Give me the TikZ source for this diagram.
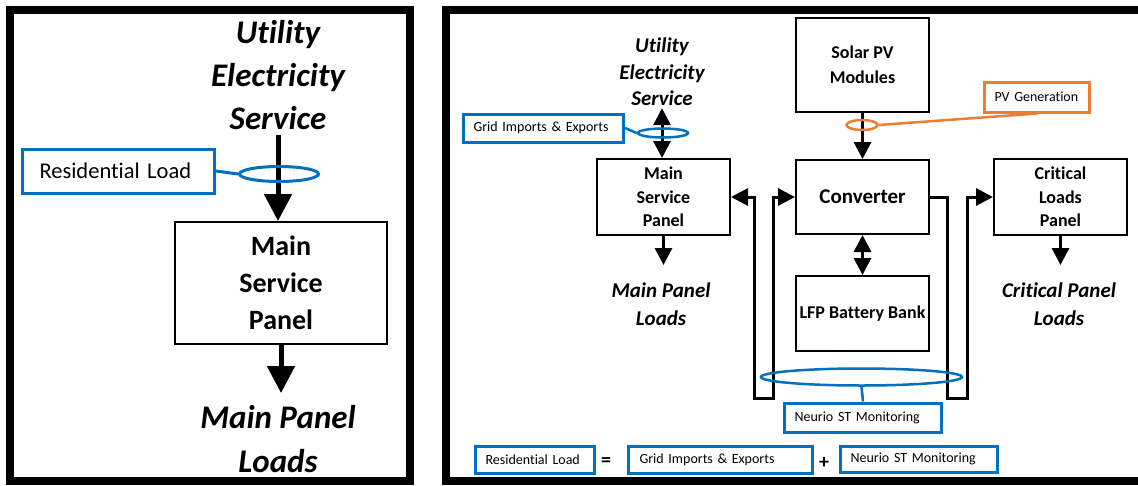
\documentclass[tikz,border=0pt]{standalone}
\usepackage{fontspec}
\setmainfont{Carlito}[Ligatures=NoCommon]
\usetikzlibrary{arrows.meta,calc,shapes.geometric}
\definecolor{callblue}{HTML}{0070C0}
\definecolor{callorange}{HTML}{ED7D31}
\newcommand\fsz[2]{\fontsize{#1}{#2}\selectfont}

\tikzset{
  bigtip/.tip={Triangle[width=27pt,length=27pt]},
  smalltip/.tip={Triangle[width=17pt,length=17pt]},
  panelframe/.style={draw=black,line width=8pt},
  blk/.style={draw=black,line width=2pt,inner sep=0pt,align=center},
  flowtext/.style={inner sep=0pt,align=center},
  callout/.style={draw=#1,line width=3pt,inner ysep=0pt,inner xsep=10pt,
    align=left,anchor=west,font=\fsz{14}{17}},
  callout/.default=callblue,
  loopring/.style={draw=#1,ellipse,line width=2.5pt,inner sep=0pt},
  loopring/.default=callblue,
  leader/.style={draw=#1,line width=2.5pt},
  leader/.default=callblue,
  wire/.style={line width=3pt},
  heavywire/.style={line width=5pt},
}

\begin{document}
\begin{tikzpicture}[x=1pt,y=-1pt]
\clip (0,0) rectangle (1138,485);
\useasboundingbox (0,0) rectangle (1138,485);
\fill[white] (0,0) rectangle (1138,485);

% ---------- left panel: utility service only ----------
\draw[panelframe] (10,10) rectangle (410,481);

\node[flowtext,font=\bfseries\itshape\fsz{33}{43}] (utilL) at (278,75)
  {Utility\\Electricity\\Service};
\node[blk,font=\bfseries\fsz{28}{37},minimum width=212pt,minimum height=122pt]
  (mspL) at (281,283) {Main\\Service\\Panel};
\node[flowtext,font=\bfseries\itshape\fsz{33}{44}] (loadsL) at (278,439.5)
  {Main Panel\\Loads};
\coordinate (tipL) at (281,393);

\draw[heavywire,-bigtip] ($(utilL.south)+(0,5)$) -- (utilL.south |- mspL.north);
\draw[heavywire,-bigtip] (mspL.south) -- (tipL);

\node[loopring,line width=3pt,minimum width=79pt,minimum height=15pt] (ringL) at (279,174) {};
\node[callout,font=\fsz{22.5}{27},minimum height=44pt,text width=158pt,inner xsep=17pt]
  (resL) at (21,171) {Residential Load};
\draw[leader,line width=3pt] (resL.east) -- (ringL.west);

% ---------- right panel: with solar and storage ----------
\draw[panelframe] (446,10) rectangle (1170,481);

\node[flowtext,font=\bfseries\itshape\fsz{21}{26.5}] (utilR) at (662,72)
  {Utility\\Electricity\\Service};
\node[blk,font=\bfseries\fsz{18}{23.5},minimum width=133pt,minimum height=76pt]
  (mspR) at (663.5,197) {Main\\Service\\Panel};
\node[flowtext,font=\bfseries\itshape\fsz{21}{28}] (loadsR) at (661,304)
  {Main Panel\\Loads};
\coordinate (tipR) at (663.5,265);

\node[blk,font=\bfseries\fsz{18}{25},minimum width=133pt,minimum height=94pt]
  (solar) at (862.5,65) {Solar PV\\Modules};
\node[blk,font=\bfseries\fsz{21}{25},minimum width=133pt,minimum height=74pt]
  (conv) at (862.5,197) {Converter};
\node[blk,font=\bfseries\fsz{18}{22},minimum width=133pt,minimum height=75pt]
  (batt) at (862.5,313.5) {LFP Battery Bank};

\node[blk,font=\bfseries\fsz{18}{23.5},minimum width=133pt,minimum height=76pt]
  (clp) at (1060.5,197) {Critical\\Loads\\Panel};
\node[flowtext,font=\bfseries\itshape\fsz{21}{28}] (loadsC) at (1059,304)
  {Critical Panel\\Loads};
\coordinate (tipC) at (1060.5,265);

% power flows
\draw[wire,smalltip-smalltip] ($(utilR.south)+(0,2)$) -- (utilR.south |- mspR.north);
\draw[wire,-smalltip] (mspR.south) -- (tipR);
\draw[wire,-smalltip] (solar.south) -- (conv.north);
\draw[wire,smalltip-smalltip] (conv.south) -- (batt.north);
\draw[wire,-smalltip] (clp.south) -- (tipC);

\coordinate (lloop) at (754,398);
\coordinate (rloop) at (947,398);
\draw[wire,smalltip-smalltip] (mspR.east) -| (lloop) -- ++(19,0) |- (conv.west);
\draw[wire,-smalltip] (conv.east) -| (rloop) -- ++(20,0) |- (clp.west);

% measurement callouts
\node[loopring,minimum width=50pt,minimum height=9pt] (ringG) at (663,133) {};
\node[callout,minimum height=28pt,text width=140pt] (gridR) at (462,128)
  {Grid Imports \& Exports};
\draw[leader] (gridR.east) -- (ringG.west);

\node[loopring=callorange,minimum width=31pt,minimum height=10pt] (ringPV) at (862,125) {};
\node[callout=callorange,minimum height=30pt,text width=85pt] (pvR) at (983,97)
  {PV Generation};
\draw[leader=callorange] (ringPV.east) -- (pvR.south);

\node[loopring,minimum width=201pt,minimum height=17pt] (ringN) at (861.5,377) {};
\node[callout,minimum height=29pt,text width=137pt] (neurio) at (783,417.5)
  {Neurio ST Monitoring};
\draw[leader] (ringN.south) -- (neurio.north);

% balance equation
\node[callout,minimum height=27pt,text width=99pt] (eqRes) at (474,459.5)
  {Residential Load};
\node[inner sep=0pt,font=\bfseries\fsz{20}{22}] (eqSign) at (606,462) {=};
\node[callout,minimum height=27pt,text width=162pt,inner xsep=11pt] (eqGrid) at (627,459.5)
  {Grid Imports \& Exports};
\node[inner sep=0pt,font=\bfseries\fsz{20}{22}] (plusSign) at (824,463) {+};
\node[callout,minimum height=26pt,text width=137pt,inner xsep=10pt] (eqNeurio) at (839,459)
  {Neurio ST Monitoring};
\end{tikzpicture}
\end{document}
